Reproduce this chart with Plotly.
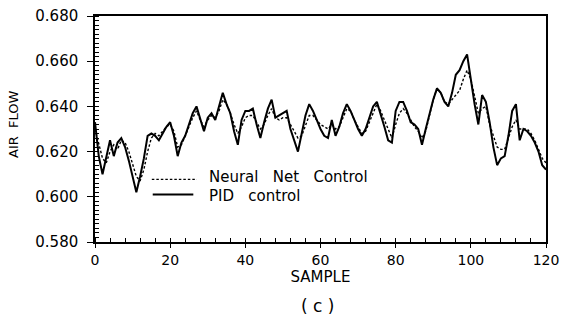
import plotly.graph_objects as go

# Sample index and the two air-flow responses
samples = list(range(0, 121))

pid_control = [
    0.633, 0.618, 0.610, 0.617, 0.625, 0.618, 0.624, 0.626, 0.622, 0.616,
    0.609, 0.602, 0.609, 0.617, 0.627, 0.628, 0.627, 0.625, 0.628, 0.631,
    0.633, 0.627, 0.618, 0.624, 0.627, 0.632, 0.637, 0.640, 0.634, 0.629,
    0.635, 0.637, 0.634, 0.640, 0.646, 0.641, 0.637, 0.629, 0.623, 0.634,
    0.638, 0.638, 0.639, 0.632, 0.626, 0.633, 0.639, 0.643, 0.635, 0.636,
    0.637, 0.638, 0.630, 0.625, 0.620, 0.628, 0.636, 0.641, 0.638, 0.634,
    0.630, 0.627, 0.626, 0.634, 0.627, 0.631, 0.637, 0.641, 0.638, 0.634,
    0.630, 0.627, 0.630, 0.635, 0.640, 0.642, 0.637, 0.631, 0.625, 0.624,
    0.638, 0.642, 0.642, 0.638, 0.633, 0.632, 0.630, 0.623, 0.630, 0.637,
    0.643, 0.648, 0.646, 0.642, 0.640, 0.646, 0.654, 0.656, 0.660, 0.663,
    0.651, 0.641, 0.632, 0.645, 0.642, 0.633, 0.622, 0.614, 0.617, 0.618,
    0.627, 0.638, 0.641, 0.625, 0.630, 0.629, 0.627, 0.624, 0.620, 0.614,
    0.612,
]

neural_net_control = [
    0.630, 0.624, 0.617, 0.615, 0.620, 0.623, 0.621, 0.625, 0.624, 0.620,
    0.614, 0.609, 0.607, 0.612, 0.620, 0.626, 0.628, 0.627, 0.629, 0.631,
    0.632, 0.629, 0.622, 0.623, 0.627, 0.631, 0.635, 0.638, 0.634, 0.631,
    0.634, 0.636, 0.635, 0.638, 0.643, 0.641, 0.637, 0.632, 0.628, 0.631,
    0.635, 0.636, 0.636, 0.633, 0.630, 0.632, 0.636, 0.639, 0.635, 0.634,
    0.635, 0.635, 0.632, 0.629, 0.626, 0.627, 0.632, 0.636, 0.636, 0.634,
    0.632, 0.631, 0.630, 0.632, 0.630, 0.631, 0.635, 0.639, 0.638, 0.634,
    0.631, 0.628, 0.629, 0.633, 0.637, 0.641, 0.638, 0.634, 0.630, 0.626,
    0.632, 0.637, 0.639, 0.637, 0.634, 0.631, 0.629, 0.626, 0.629, 0.636,
    0.643, 0.648, 0.646, 0.642, 0.641, 0.643, 0.645, 0.647, 0.652, 0.656,
    0.652, 0.644, 0.637, 0.639, 0.640, 0.632, 0.627, 0.622, 0.621, 0.621,
    0.626, 0.631, 0.634, 0.630, 0.630, 0.630, 0.628, 0.625, 0.621, 0.617,
    0.615,
]

series_names = ["Neural   Net   Control", "PID   control"]

x_ticks = [0, 20, 40, 60, 80, 100, 120]
y_ticks = [0.580, 0.600, 0.620, 0.640, 0.660, 0.680]
y_tick_text = ["0.580", "0.600", "0.620", "0.640", "0.660", "0.680"]

FONT = "DejaVu Sans, sans-serif"
DASH = "2.5px,2px"

fig = go.Figure()
fig.add_trace(go.Scatter(
    x=samples, y=neural_net_control, mode="lines", name=series_names[0],
    line=dict(color="black", width=1.4, dash=DASH), showlegend=False,
))
fig.add_trace(go.Scatter(
    x=samples, y=pid_control, mode="lines", name=series_names[1],
    line=dict(color="black", width=2), showlegend=False,
))

# Compact key inside the lower-left of the plot area
text_x = 0.250
key_rows = [(0.126, 0.226, 0.277, 0.288, dict(color="black", width=1.4, dash=DASH)),
            (0.128, 0.218, 0.210, 0.203, dict(color="black", width=2))]
shapes, annotations = [], []
for name, (kx0, kx1, ly, ty, style) in zip(series_names, key_rows):
    shapes.append(dict(type="line", xref="paper", yref="paper",
                       x0=kx0, x1=kx1, y0=ly, y1=ly, line=style))
    annotations.append(dict(text=name, xref="paper", yref="paper",
                            x=text_x, y=ty, xanchor="left", yanchor="middle",
                            showarrow=False, borderpad=0,
                            font=dict(family=FONT, size=15, color="black")))

annotations.append(dict(text="AIR  FLOW", xref="paper", yref="paper",
                        x=-0.182, y=0.522, textangle=-90,
                        xanchor="center", yanchor="middle", showarrow=False,
                        font=dict(family=FONT, size=13, color="black")))
annotations.append(dict(text="( c )", xref="paper", yref="paper",
                        x=0.494, y=-0.283, xanchor="center", yanchor="middle",
                        showarrow=False,
                        font=dict(family=FONT, size=17, color="black")))

fig.update_layout(
    width=565, height=329,
    margin=dict(l=95, r=19, t=16, b=87, autoexpand=False),
    paper_bgcolor="white", plot_bgcolor="white",
    font=dict(family=FONT, size=14, color="black"),
    showlegend=False,
    shapes=shapes,
    annotations=annotations,
)

fig.update_xaxes(
    range=[0, 120], showgrid=False, zeroline=False, automargin=False,
    showline=True, linecolor="black", linewidth=1.5, mirror=True,
    tickmode="array", tickvals=x_ticks,
    ticks="outside", ticklen=4, tickwidth=1.3, tickcolor="black",
    minor=dict(dtick=4, ticks="inside", ticklen=4, tickwidth=1, tickcolor="black"),
    tickfont=dict(family=FONT, size=14),
    title=dict(text="SAMPLE", font=dict(family=FONT, size=15), standoff=0),
)
fig.update_yaxes(
    range=[0.58, 0.68], showgrid=False, zeroline=False, automargin=False,
    showline=True, linecolor="black", linewidth=1.5, mirror=True,
    tickmode="array", tickvals=y_ticks, ticktext=y_tick_text,
    ticks="outside", ticklen=6, tickwidth=1.3, tickcolor="black",
    ticklabelstandoff=6,
    minor=dict(dtick=0.002, ticks="inside", ticklen=4, tickwidth=1, tickcolor="black"),
    tickfont=dict(family=FONT, size=15),
)

fig.write_html("out.html")
